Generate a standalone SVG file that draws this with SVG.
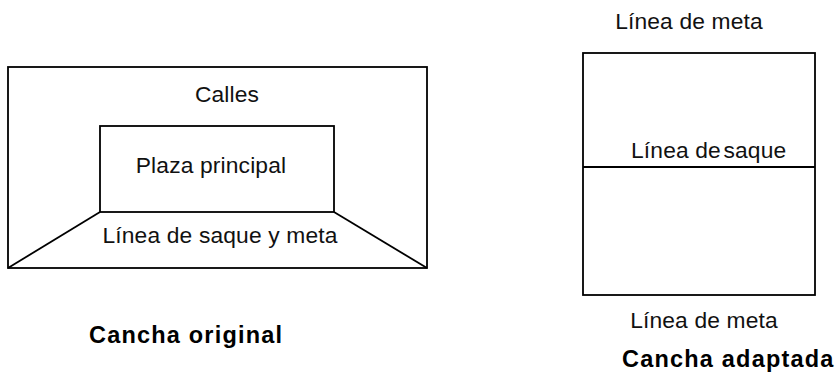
<svg xmlns="http://www.w3.org/2000/svg" width="836" height="372" viewBox="0 0 836 372">
  <style>
    .line { fill: none; stroke: #000; stroke-width: 1.8; }
    .lbl { font-family: "Liberation Sans", Arial, sans-serif; font-size: 22.8px; letter-spacing: 0.15px; fill: #111; }
    .ttl { font-family: "Liberation Sans", Arial, sans-serif; font-size: 23.5px; letter-spacing: 1.2px; font-weight: bold; fill: #000; }
  </style>
  <rect width="836" height="372" fill="#fff"/>

  <!-- Original court: streets around the main square -->
  <g id="cancha-original">
    <rect class="line" x="8" y="67" width="419" height="201"/>
    <rect class="line" x="100" y="126" width="234" height="86"/>
    <line class="line" x1="100" y1="212" x2="8" y2="268"/>
    <line class="line" x1="334" y1="212" x2="427" y2="268"/>
    <text class="lbl" x="227" y="102" text-anchor="middle">Calles</text>
    <text class="lbl" x="211" y="173" text-anchor="middle">Plaza principal</text>
    <text class="lbl" x="220" y="243" text-anchor="middle">Línea de saque y meta</text>
    <text class="ttl" x="89" y="343">Cancha original</text>
  </g>

  <!-- Adapted court: rectangle split by the serve line -->
  <g id="cancha-adaptada">
    <rect class="line" x="583" y="53" width="232" height="242"/>
    <line class="line" x1="583" y1="167" x2="815" y2="167"/>
    <text class="lbl" x="689" y="29" text-anchor="middle">Línea de meta</text>
    <text class="lbl" x="631" y="158">Línea de<tspan dx="-4"> saque</tspan></text>
    <text class="lbl" x="704" y="328" text-anchor="middle">Línea de meta</text>
    <text class="ttl" x="622" y="367">Cancha adaptada</text>
  </g>
</svg>
